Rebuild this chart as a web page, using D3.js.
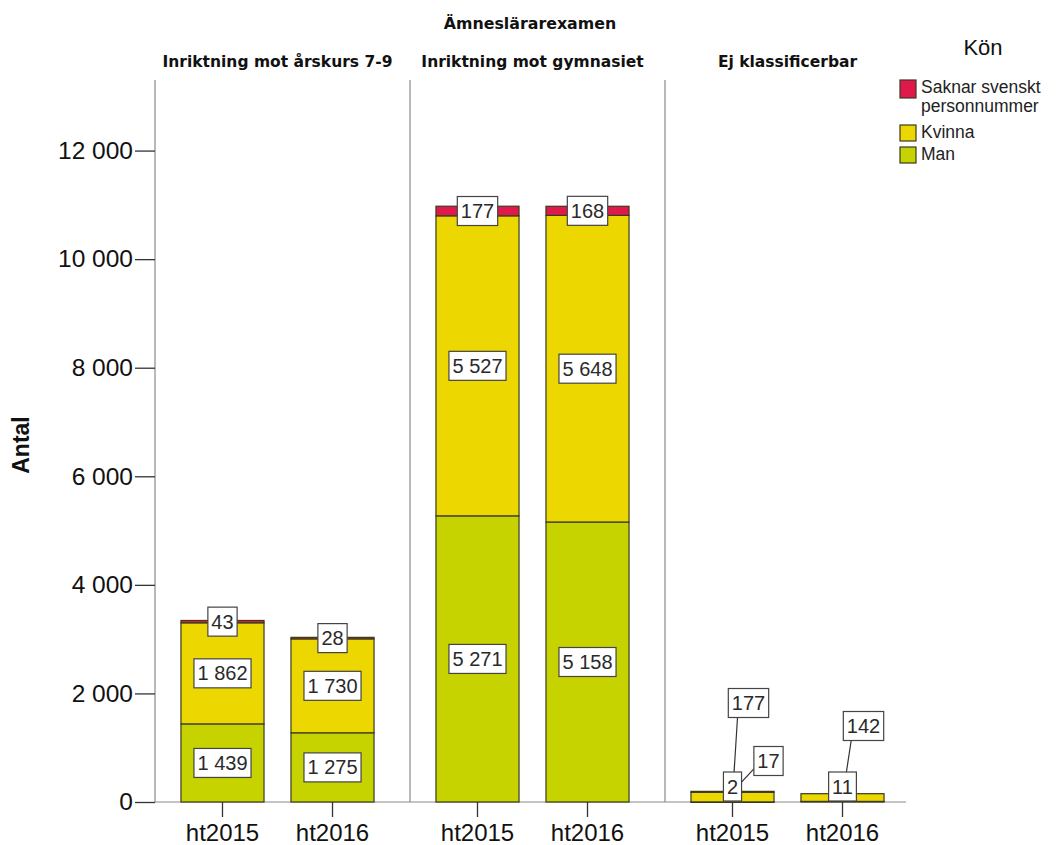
<!DOCTYPE html>
<html>
<head>
<meta charset="utf-8">
<script src="https://cdn.jsdelivr.net/npm/d3@7"></script>
<style>
  html, body { margin: 0; padding: 0; background: #fff; }
  svg { display: block; }
</style>
</head>
<body>
<svg id="chart" width="1064" height="845"></svg>
<script>
// ---- Data ----
const mainTitle = "Ämneslärarexamen";
const panels = ["Inriktning mot årskurs 7-9", "Inriktning mot gymnasiet", "Ej klassificerbar"];
const years = ["ht2015", "ht2016"];
const seriesNames = ["Man", "Kvinna", "Saknar svenskt personnummer"];
const manValues = [[1439, 1275], [5271, 5158], [2, 11]];
const kvinnaValues = [[1862, 1730], [5527, 5648], [177, 142]];
const saknarValues = [[43, 28], [177, 168], [17, 0]];
const yTicks = [0, 2000, 4000, 6000, 8000, 10000, 12000];
const yLabel = "Antal";
const legendTitle = "Kön";
const legendOrder = ["Saknar svenskt personnummer", "Kvinna", "Man"];
const legendLines = [["Saknar svenskt", "personnummer"], ["Kvinna"], ["Man"]];

// ---- Styles ----
const colors = {"Man": "#c6d300", "Kvinna": "#ecd800", "Saknar svenskt personnummer": "#e0194a"};
const seriesValues = [manValues, kvinnaValues, saknarValues];

const svg = d3.select("#chart");
const fmt = d3.formatLocale({decimal: ",", thousands: " ", grouping: [3], currency: ["", ""]}).format(",d");

const y = d3.scaleLinear().domain([0, 13300]).range([802, 80]);
const px = d3.scaleBand().domain(panels).range([155, 910]).paddingInner(10 / 255).paddingOuter(0);
const bx = d3.scaleBand().domain(years).range([0, px.bandwidth()]).paddingInner(0.245).paddingOuter(0.236);

// Titles
svg.append("text").attr("x", 530).attr("y", 29).attr("text-anchor", "middle")
  .style("font-family", "DejaVu Sans").style("font-weight", "bold").style("font-size", "15.8px").attr("fill", "#111")
  .text(mainTitle);
svg.selectAll(".ptitle").data(panels).enter().append("text")
  .attr("x", d => px(d) + px.bandwidth() / 2).attr("y", 67).attr("text-anchor", "middle")
  .style("font-family", "DejaVu Sans").style("font-weight", "bold").style("font-size", "15.5px").attr("fill", "#111")
  .text(d => d);

// Panel frame lines
svg.selectAll(".pline").data(panels).enter().append("line")
  .attr("x1", d => px(d)).attr("x2", d => px(d)).attr("y1", y.range()[1]).attr("y2", y(0))
  .attr("stroke", "#8a8a8a").attr("stroke-width", 1.2);
svg.append("line").attr("x1", px.range()[0]).attr("x2", px.range()[1] - 4).attr("y1", y(0)).attr("y2", y(0))
  .attr("stroke", "#8a8a8a").attr("stroke-width", 1.2);

// Y axis
const yAxis = svg.append("g").attr("transform", `translate(${px.range()[0]},0)`)
  .call(d3.axisLeft(y).tickValues(yTicks).tickFormat(fmt).tickSize(20).tickPadding(2).tickSizeOuter(0));
yAxis.select(".domain").remove();
yAxis.selectAll(".tick line").attr("stroke", "#333").attr("stroke-width", 1.3);
yAxis.selectAll(".tick text").style("font-family", "Liberation Sans, Arial").style("font-size", "24.5px").attr("fill", "#111");

svg.append("text").attr("transform", "translate(29,445) rotate(-90)").attr("text-anchor", "middle")
  .style("font-family", "Liberation Sans, Arial").style("font-weight", "bold").style("font-size", "23px").attr("fill", "#111")
  .text(yLabel);

// X axes per panel
panels.forEach(p => {
  const g = svg.append("g").attr("transform", `translate(${px(p)},${y(0)})`)
    .call(d3.axisBottom(bx).tickSize(15).tickPadding(7).tickSizeOuter(0));
  g.select(".domain").remove();
  g.selectAll(".tick line").attr("stroke", "#333").attr("stroke-width", 1.3);
  g.selectAll(".tick text").style("font-family", "Liberation Sans, Arial").style("font-size", "24px").attr("fill", "#111");
});

// Bars
const labels = [];
panels.forEach((p, pi) => {
  years.forEach((yr, yi) => {
    let cum = 0;
    const cx = px(p) + bx(yr) + bx.bandwidth() / 2;
    seriesNames.forEach((s, si) => {
      const v = seriesValues[si][pi][yi];
      const y0 = cum, y1 = cum + v;
      cum = y1;
      if (v <= 0) return;
      svg.append("rect")
        .attr("x", px(p) + bx(yr)).attr("width", bx.bandwidth())
        .attr("y", y(y1)).attr("height", Math.max(0.5, y(y0) - y(y1)))
        .attr("fill", colors[s]).attr("stroke", "#3a3a20").attr("stroke-width", 1.2);
      labels.push({panel: p, year: yr, series: s, value: v, cx: cx, cy: y((y0 + y1) / 2)});
    });
  });
});

// Label shifts (moved labels with leader lines), offsets relative to bar centre and baseline
const labelShift = {
  "Ej klassificerbar|ht2015|Kvinna": [16, -99],
  "Ej klassificerbar|ht2015|Saknar svenskt personnummer": [36, -41],
  "Ej klassificerbar|ht2016|Kvinna": [21, -76]
};
const boxH = 29;
const measure = svg.append("text").style("font-family", "Liberation Sans, Arial").style("font-size", "20px");
labels.forEach(l => {
  measure.text(fmt(l.value));
  l.w = measure.node().getComputedTextLength() + 7;
  const key = `${l.panel}|${l.year}|${l.series}`;
  if (labelShift[key]) {
    l.bx = l.cx + labelShift[key][0];
    l.by = y(0) + labelShift[key][1];
    l.leader = true;
  } else {
    l.bx = l.cx;
    l.by = Math.min(l.cy, y(0) - 1 - boxH / 2);
    l.leader = false;
  }
});
measure.remove();

labels.filter(l => l.leader).forEach(l => {
  svg.append("line").attr("x1", l.bx - l.w / 4).attr("y1", l.by).attr("x2", l.cx).attr("y2", l.cy)
    .attr("stroke", "#333").attr("stroke-width", 1.2);
});
labels.forEach(l => {
  svg.append("rect").attr("x", l.bx - l.w / 2).attr("y", l.by - boxH / 2).attr("width", l.w).attr("height", boxH)
    .attr("fill", "#fff").attr("stroke", "#444").attr("stroke-width", 1.2);
  svg.append("text").attr("x", l.bx).attr("y", l.by + 7).attr("text-anchor", "middle")
    .style("font-family", "Liberation Sans, Arial").style("font-size", "20px").attr("fill", "#2a2a2a")
    .text(fmt(l.value));
});

// Legend
svg.append("text").attr("x", 983).attr("y", 55).attr("text-anchor", "middle")
  .style("font-family", "Liberation Sans, Arial").style("font-size", "22px").attr("fill", "#111")
  .text(legendTitle);
const legendY = [80, 125, 147];
const legendH = [18, 16, 16];
legendOrder.forEach((s, i) => {
  svg.append("rect").attr("x", 900).attr("y", legendY[i]).attr("width", 16).attr("height", legendH[i])
    .attr("fill", colors[s]).attr("stroke", "#3a3a20").attr("stroke-width", 1.2);
  legendLines[i].forEach((ln, j) => {
    svg.append("text").attr("x", 921).attr("y", legendY[i] + 13 + j * 18.5)
      .style("font-family", "Liberation Sans, Arial").style("font-size", "17.5px").attr("fill", "#222")
      .text(ln);
  });
});
</script>
</body>
</html>
